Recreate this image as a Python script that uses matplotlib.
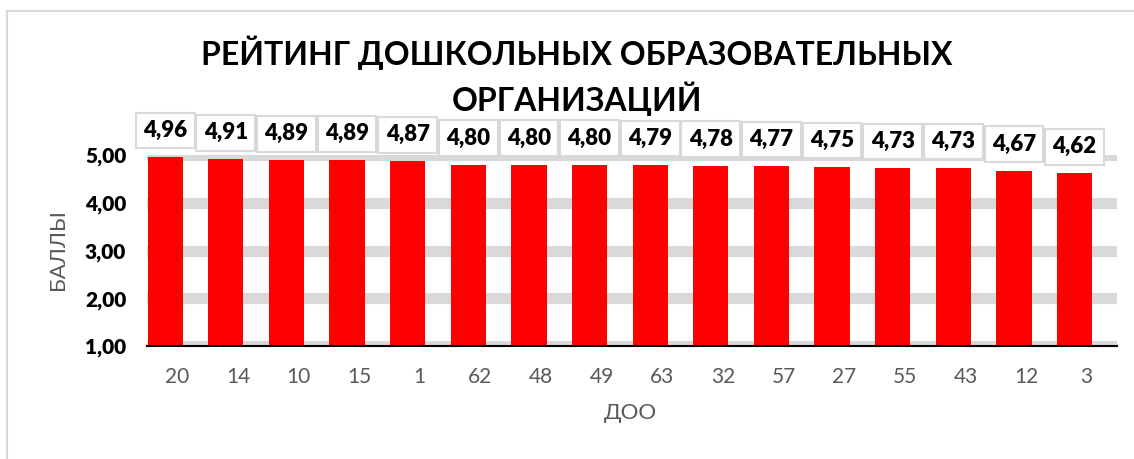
import matplotlib.pyplot as plt
from matplotlib.lines import Line2D

# rating of preschool organisations (DOO numbers and scores)
doo = ['20', '14', '10', '15', '1', '62', '48', '49', '63', '32', '57', '27', '55', '43', '12', '3']
scores = [4.96, 4.91, 4.89, 4.89, 4.87, 4.80, 4.80, 4.80, 4.79, 4.78, 4.77, 4.75, 4.73, 4.73, 4.67, 4.62]
y_ticks = [1, 2, 3, 4, 5]

plt.rcParams['font.family'] = ['Lato', 'DejaVu Sans']

W, H = 1134, 459
fig = plt.figure(figsize=(W / 100, H / 100), dpi=100)
ax = fig.add_axes([147 / W, 1 - 346 / H, 970 / W, 191 / H])

# excel puts the bars a bit left of the category centre
shift = -0.2
xpos = [i + shift for i in range(len(doo))]
ax.bar(xpos, scores, width=0.58, color='#ff0000', zorder=3)

for xp, v in zip(xpos, scores):
    ax.annotate(f'{v:.2f}'.replace('.', ','), (xp, v), xytext=(0, 11.5), textcoords='offset points',
                ha='center', va='bottom', fontsize=16, fontweight='heavy', color='black',
                bbox=dict(boxstyle='square,pad=0.33', fc='white', ec='#d9d9d9', lw=1.5),
                zorder=5, annotation_clip=False)

ax.set_ylim(1, 5)
ax.set_xlim(-0.5, len(doo) - 0.5)
ax.set_yticks(y_ticks)
ax.set_yticklabels([f'{t:.2f}'.replace('.', ',') for t in y_ticks], fontsize=15, fontweight='heavy')
ax.set_xticks(range(len(doo)))
ax.set_xticklabels(doo, fontsize=15, color='#595959')
ax.tick_params(length=0)
ax.tick_params(axis='x', pad=15)
ax.tick_params(axis='y', pad=15)

ax.yaxis.grid(True, color='#d9d9d9', lw=8, zorder=0)
ax.set_axisbelow(True)
for s in ['left', 'right', 'top']:
    ax.spines[s].set_visible(False)
ax.spines['bottom'].set_color('black')
ax.spines['bottom'].set_linewidth(1.5)
ax.spines['bottom'].set_zorder(4)

fig.text(630 / W, 1 - 413 / H, 'ДОО', fontsize=16, color='#595959', ha='center', va='center')
fig.text(58 / W, 1 - 250 / H, 'БАЛЛЫ', fontsize=16, color='#595959', ha='center', va='center', rotation=90)

fig.text(577 / W, 1 - 53 / H, 'РЕЙТИНГ ДОШКОЛЬНЫХ ОБРАЗОВАТЕЛЬНЫХ', ha='center', va='center',
         fontsize=23, fontweight='bold')
fig.text(577 / W, 1 - 99 / H, 'ОРГАНИЗАЦИЙ', ha='center', va='center',
         fontsize=23, fontweight='bold')

# light frame on the left and top edge
fig.add_artist(Line2D([7 / W, 7 / W], [0, 1 - 11 / H], transform=fig.transFigure, color='#d9d9d9', lw=1.5))
fig.add_artist(Line2D([7 / W, 1], [1 - 11 / H, 1 - 11 / H], transform=fig.transFigure, color='#d9d9d9', lw=1.5))

fig.savefig('out.png', dpi=100)
